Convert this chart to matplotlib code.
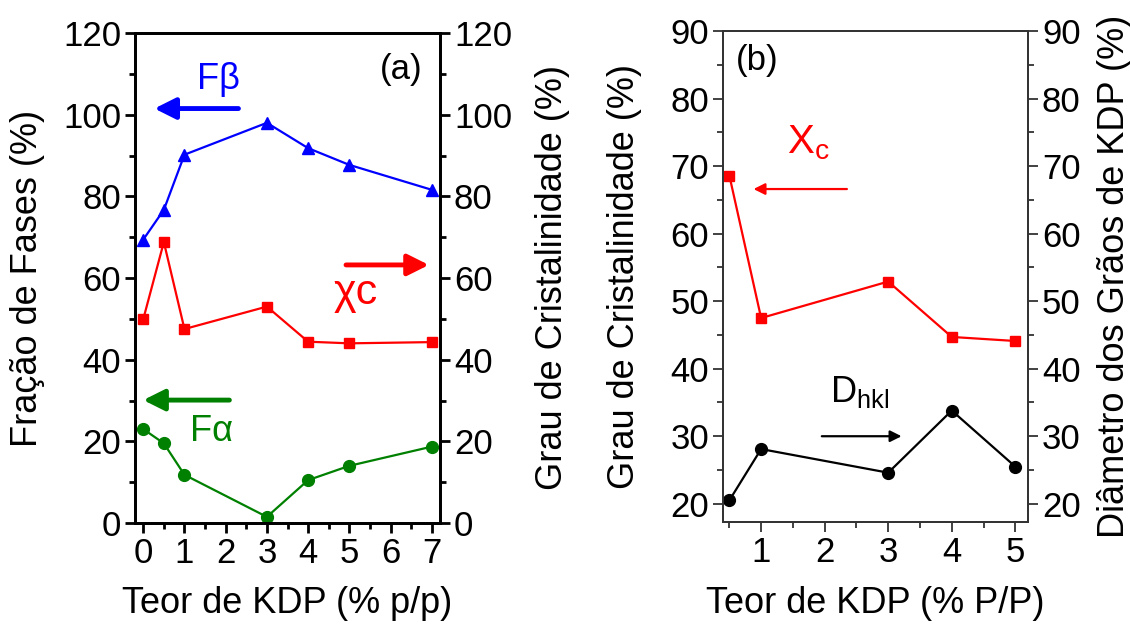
import matplotlib
matplotlib.use('Agg')
from matplotlib import pyplot as plt
from matplotlib.ticker import MultipleLocator

plt.rcParams['font.family'] = ['Liberation Sans', 'DejaVu Sans']
plt.rcParams['mathtext.fontset'] = 'custom'
plt.rcParams['mathtext.rm'] = 'Liberation Sans'

# panel (a) data
kdp_a = [0, 0.5, 1, 3, 4, 5, 7]
f_beta = [69.4, 76.7, 90.2, 98.0, 91.8, 87.7, 81.6]
chi_c = [49.9, 68.8, 47.5, 53.0, 44.4, 44.0, 44.3]
f_alpha = [23.0, 19.5, 11.8, 1.5, 10.5, 14.0, 18.7]

# panel (b) data
kdp_b = [0.5, 1, 3, 4, 5]
xc_b = [68.6, 47.5, 52.9, 44.7, 44.1]
d_hkl = [20.5, 28.1, 24.6, 33.8, 25.5]

W, H = 1130, 624
fig = plt.figure(figsize=(W / 100, H / 100), dpi=100)

def box(l, t, r, b):
    return [l / W, 1 - b / H, (r - l) / W, (b - t) / H]

TICK = 25
LAB = 26

def style(ax, lw, col):
    for s in ax.spines.values():
        s.set_linewidth(lw)
        s.set_color(col)
    ax.tick_params(which='both', direction='out', width=lw, color=col,
                   labelsize=TICK, pad=3)
    ax.tick_params(which='major', length=7)
    ax.tick_params(which='minor', length=4)

# ---------- (a) ----------
ax1 = fig.add_axes(box(135, 33, 440, 523))
ax1r = ax1.twinx()
ax1.plot(kdp_a, f_beta, '-^', color='#0000ff', lw=1.6, ms=9)
ax1.plot(kdp_a, f_alpha, '-o', color='#008000', lw=1.6, ms=8.5)
ax1r.plot(kdp_a, chi_c, '-s', color='#ff0000', lw=1.6, ms=7.5)
for a in (ax1, ax1r):
    a.set_xlim(-0.2, 7.2)
    a.set_ylim(0, 120)
    a.yaxis.set_major_locator(MultipleLocator(20))
    a.yaxis.set_minor_locator(MultipleLocator(10))
    style(a, 2.0, 'k')
ax1.xaxis.set_major_locator(MultipleLocator(1))
ax1.xaxis.set_minor_locator(MultipleLocator(0.5))
ax1.set_xlabel('Teor de KDP (% p/p)', fontsize=LAB)
ax1.set_ylabel('Fração de Fases (%)', fontsize=LAB)
ax1r.set_ylabel('Grau de Cristalinidade (%)', fontsize=LAB)
ax1.xaxis.set_label_coords(0.5, -0.129)
ax1.yaxis.set_label_coords(-0.295, 0.5)
ax1r.yaxis.set_label_coords(1.311, 0.5)

ax1.text(6.26, 111, '(a)', fontsize=25, ha='center', va='center')
ax1.text(1.82, 108.6, 'Fβ', fontsize=26, color='#0000ff', ha='center', va='center')
ax1.text(1.65, 22.3, 'Fα', fontsize=26, color='#008000', ha='center', va='center')
ax1.text(5.16, 56.4, 'χc', fontsize=31, color='#ff0000', ha='center', va='center')
ax1.annotate('', xy=(0.27, 101.5), xytext=(2.31, 101.5),
             arrowprops=dict(arrowstyle='-|>', lw=3.5, color='#0000ff', mutation_scale=32,
                             shrinkA=0, shrinkB=0))
ax1.annotate('', xy=(6.93, 63.2), xytext=(4.92, 63.2),
             arrowprops=dict(arrowstyle='-|>', lw=3.5, color='#ff0000', mutation_scale=32,
                             shrinkA=0, shrinkB=0))
ax1.annotate('', xy=(0.0, 30.1), xytext=(2.09, 30.1),
             arrowprops=dict(arrowstyle='-|>', lw=3.5, color='#008000', mutation_scale=32,
                             shrinkA=0, shrinkB=0))

# ---------- (b) ----------
ax2 = fig.add_axes(box(723, 31, 1028, 522))
ax2r = ax2.twinx()
ax2.plot(kdp_b, xc_b, '-s', color='#ff0000', lw=1.6, ms=7.5)
ax2r.plot(kdp_b, d_hkl, '-o', color='k', lw=1.6, ms=8.5)
for a in (ax2, ax2r):
    a.set_xlim(0.4, 5.2)
    a.set_ylim(17.3, 90)
    a.yaxis.set_major_locator(MultipleLocator(10))
    a.yaxis.set_minor_locator(MultipleLocator(5))
    style(a, 1.3, '#333333')
ax2.set_xticks([1, 2, 3, 4, 5])
ax2.set_xticks([0.5, 1.5, 2.5, 3.5, 4.5], minor=True)
ax2.set_xlabel('Teor de KDP (% P/P)', fontsize=LAB)
ax2.set_ylabel('Grau de Cristalinidade (%)', fontsize=LAB)
ax2r.set_ylabel('Diâmetro dos Grãos de KDP (%)', fontsize=LAB)
ax2.xaxis.set_label_coords(0.5, -0.130)
ax2.yaxis.set_label_coords(-0.266, 0.5)
ax2r.yaxis.set_label_coords(1.226, 0.5)

ax2.text(0.94, 85.7, '(b)', fontsize=25, ha='center', va='center')
ax2.text(1.75, 73.5, r'X$_\mathregular{c}$', fontsize=29, color='#ff0000', ha='center', va='center')
ax2.text(2.55, 36.5, r'D$_\mathregular{hkl}$', fontsize=26, color='k', ha='center', va='center')
ax2.annotate('', xy=(0.88, 66.6), xytext=(2.35, 66.6),
             arrowprops=dict(arrowstyle='-|>', lw=1.6, color='#ff0000', mutation_scale=17,
                             shrinkA=0, shrinkB=0))
ax2.annotate('', xy=(3.21, 30.0), xytext=(1.955, 30.0),
             arrowprops=dict(arrowstyle='-|>', lw=1.6, color='k', mutation_scale=17,
                             shrinkA=0, shrinkB=0))

fig.savefig('out.png', dpi=100)
